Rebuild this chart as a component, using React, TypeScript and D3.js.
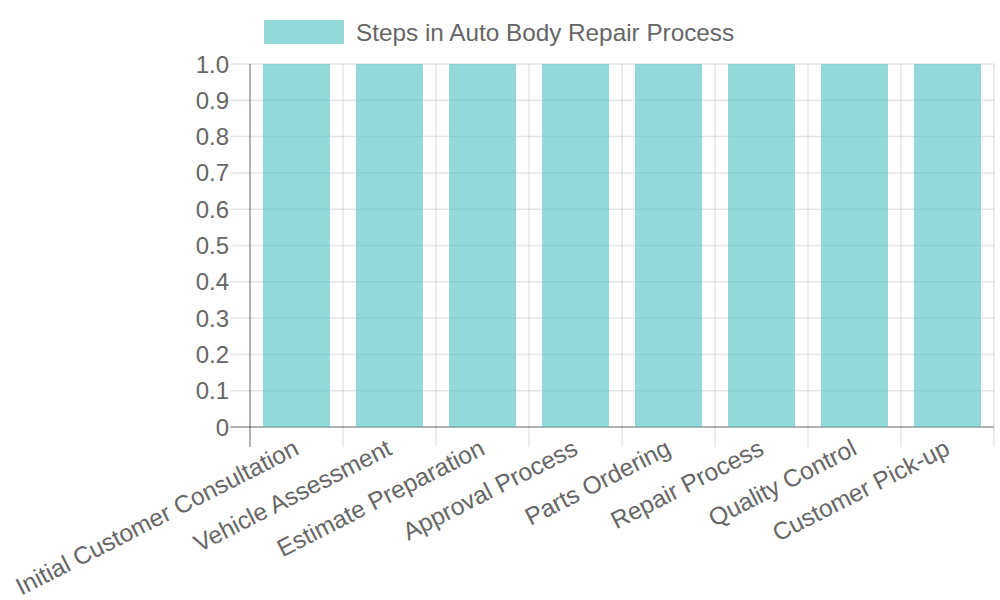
import * as d3 from 'd3';
import * as React from 'react';

const steps = [
  'Initial Customer Consultation',
  'Vehicle Assessment',
  'Estimate Preparation',
  'Approval Process',
  'Parts Ordering',
  'Repair Process',
  'Quality Control',
  'Customer Pick-up',
];
const values = [1, 1, 1, 1, 1, 1, 1, 1];
const yTicks = [0, 0.1, 0.2, 0.3, 0.4, 0.5, 0.6, 0.7, 0.8, 0.9, 1.0];
const yTickLabels = ['0', '0.1', '0.2', '0.3', '0.4', '0.5', '0.6', '0.7', '0.8', '0.9', '1.0'];
const seriesName = 'Steps in Auto Body Repair Process';

const width = 1000;
const height = 600;
const left = 250;
const right = 994;
const top = 64;
const bottom = 427;
const font = '"Liberation Sans", Arial, sans-serif';
const textColor = '#666';
const fill = 'rgba(75,192,192,0.6)';

export default function App() {
  const x = d3.scaleBand<string>().domain(steps).range([left, right]).paddingInner(0).paddingOuter(0);
  const y = d3.scaleLinear().domain([0, 1]).range([bottom, top]);
  const bw = x.bandwidth() * 0.72;

  return (
    <svg width={width} height={height} style={{ position: 'absolute', left: 0, top: 0 }}>
      {/* horizontal grid + ticks */}
      {yTicks.map((t, i) => (
        <g key={'y' + i}>
          <line
            x1={left - 20}
            x2={right}
            y1={y(t)}
            y2={y(t)}
            stroke={t === 0 ? 'rgba(0,0,0,0.3)' : 'rgba(0,0,0,0.1)'}
            strokeWidth={t === 0 ? 2 : 1.5}
          />
          <text
            x={left - 21}
            y={y(t)}
            textAnchor="end"
            dominantBaseline="central"
            fontFamily={font}
            fontSize={24}
            fill={textColor}
          >
            {yTickLabels[i]}
          </text>
        </g>
      ))}
      {/* vertical grid at category edges */}
      {d3.range(steps.length + 1).map((i) => {
        const gx = left + i * x.step();
        return (
          <line
            key={'v' + i}
            x1={gx}
            x2={gx}
            y1={top}
            y2={bottom + 20}
            stroke={i === 0 ? 'rgba(0,0,0,0.3)' : 'rgba(0,0,0,0.1)'}
            strokeWidth={i === 0 ? 2 : 1.5}
          />
        );
      })}
      {/* bars */}
      {steps.map((s, i) => (
        <rect
          key={s}
          x={(x(s) as number) + x.bandwidth() / 2 - bw / 2}
          y={y(values[i])}
          width={bw}
          height={y(0) - y(values[i])}
          fill={fill}
        />
      ))}
      {/* category labels */}
      {steps.map((s) => {
        const cx = (x(s) as number) + x.bandwidth() / 2;
        return (
          <text
            key={'l' + s}
            transform={`translate(${cx},${bottom + 19}) rotate(-27)`}
            textAnchor="end"
            dominantBaseline="central"
            fontFamily={font}
            fontSize={24.5}
            fill={textColor}
          >
            {s}
          </text>
        );
      })}
      {/* legend */}
      <rect x={264} y={20} width={80} height={24} fill={fill} />
      <text x={356} y={32} dominantBaseline="central" fontFamily={font} fontSize={24.3} fill={textColor}>
        {seriesName}
      </text>
    </svg>
  );
}
